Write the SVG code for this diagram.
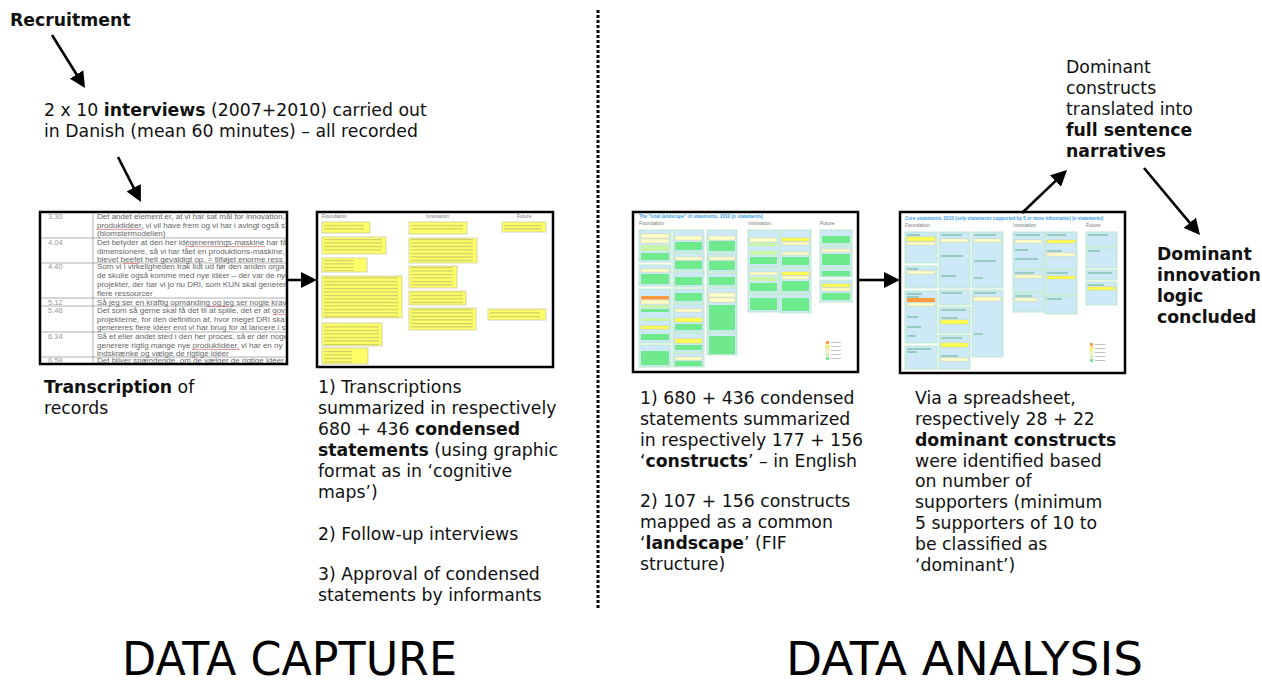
<svg xmlns="http://www.w3.org/2000/svg" width="1262" height="687" viewBox="0 0 1262 687">
<style>
.t{font-family:"DejaVu Sans",Verdana,sans-serif;font-size:17.3px;fill:#111}
.b{font-weight:bold}
.big{font-family:"DejaVu Sans",Verdana,sans-serif;font-size:46px;fill:#000}
.tab{font-family:"Liberation Sans",Arial,sans-serif;font-size:8px;fill:#666}
.tm{font-family:"Liberation Sans",Arial,sans-serif;font-size:7.5px;fill:#999}
.hd{font-family:"Liberation Sans",Arial,sans-serif;font-size:5px;fill:#777}
.ttl{font-family:"Liberation Sans",Arial,sans-serif;font-size:4.6px;fill:#3aa0e8;font-weight:bold}
.frame{fill:#fff;stroke:#000;stroke-width:2.5}
.grid{stroke:#999;stroke-width:0.8}
.yb{fill:#ffff66;stroke:#c9c9a8;stroke-width:0.8}
.yt{fill:url(#txt)}
.pn{fill:#cde9f7;stroke:#b5e6bf;stroke-width:0.8}
.g{fill:#6eea8c}
.lg{fill:#c8f5a8}
.y{fill:#ffff55;stroke:#d8c850;stroke-width:0.4}
.ly{fill:#ffffcc;stroke:#d8c890;stroke-width:0.4}
.o{fill:#ff9a40}
.pl{stroke:#3b9a5a;stroke-width:0.7}
.arr{stroke:#000;stroke-width:2.6;fill:none;marker-end:url(#ah)}
</style>
<defs>
<marker id="ah" markerUnits="userSpaceOnUse" markerWidth="16" markerHeight="16" refX="6" refY="8" orient="auto">
<path d="M0,0 L16,8 L0,16 z" fill="#000"/>
</marker>
<pattern id="txt" width="30" height="3.5" patternUnits="userSpaceOnUse">
<rect x="0" y="1.2" width="30" height="0.7" fill="#a8a870"/>
</pattern>
<clipPath id="c1"><rect x="41" y="213" width="245" height="150"/></clipPath>
</defs>

<g id="node-recruitment"><text class="t b" x="10" y="26">Recruitment</text></g>

<g id="node-interviews">
<text class="t" x="44" y="116">2 x 10 <tspan class="b">interviews</tspan> (2007+2010) carried out</text>
<text class="t" x="44" y="137">in Danish (mean 60 minutes) – all recorded</text>
</g>

<g id="node-transcript-image">
<rect class="frame" x="40" y="212" width="247" height="152"/>
<g clip-path="url(#c1)">
<line class="grid" x1="93" y1="212" x2="93" y2="364"/>
<line class="grid" x1="40" y1="238" x2="287" y2="238"/>
<line class="grid" x1="40" y1="263" x2="287" y2="263"/>
<line class="grid" x1="40" y1="298" x2="287" y2="298"/>
<line class="grid" x1="40" y1="306" x2="287" y2="306"/>
<line class="grid" x1="40" y1="332" x2="287" y2="332"/>
<line class="grid" x1="40" y1="357" x2="287" y2="357"/>
<text class="tm" x="48" y="219">3.30</text>
<text class="tm" x="48" y="245">4.04</text>
<text class="tm" x="48" y="269">4.40</text>
<text class="tm" x="48" y="305">5.12</text>
<text class="tm" x="48" y="313">5.46</text>
<text class="tm" x="48" y="339">6.34</text>
<text class="tm" x="48" y="363">6.58</text>
<text class="tab" x="97" y="219">Det andet element er, at vi har sat mål for innovation,</text>
<text class="tab" x="97" y="228">produktidéer, vi vil have frem og vi har i avingt også s</text>
<text class="tab" x="97" y="236">(blomstermodellen)</text>
<text class="tab" x="97" y="245">Det betyder at den her idégenererings-maskine har få</text>
<text class="tab" x="97" y="254">dimensionere, så vi har fået en produktions-maskine,</text>
<text class="tab" x="97" y="262">blevet beefet helt gevaldigt op. = tilføjet enorme ress</text>
<text class="tab" x="97" y="269">Som vi i virkeligheden trak lidt ud før den anden orga</text>
<text class="tab" x="97" y="278">de skulle også komme med nye idéer – der var de nye</text>
<text class="tab" x="97" y="287">projekter, der har vi jo nu DRI, som KUN skal generer</text>
<text class="tab" x="97" y="296">flere ressourcer</text>
<text class="tab" x="97" y="305">Så jeg ser en kraftig opmanding og jeg ser nogle krav</text>
<text class="tab" x="97" y="313">Det som så gerne skal få det til at spille, det er at gov</text>
<text class="tab" x="97" y="322">projekterne, for den definition af, hvor meget DRI ska</text>
<text class="tab" x="97" y="330">genereres flere idéer end vi har brug for at lancere i s</text>
<text class="tab" x="97" y="339">Så et eller andet sted i den her proces, så er der noge</text>
<text class="tab" x="97" y="348">generere rigtig mange nye produktidéer, vi har en ny</text>
<text class="tab" x="97" y="356">indskrænke og vælge de rigtige idéer</text>
<text class="tab" x="97" y="363">Det bliver spændende, om de vælger de rigtige idéer</text>
<g stroke="#e06060" stroke-width="0.6">
<line x1="97" y1="229.5" x2="142" y2="229.5"/>
<line x1="185" y1="246.5" x2="265" y2="246.5"/>
<line x1="123" y1="263.5" x2="139" y2="263.5"/>
<line x1="207" y1="306.5" x2="229" y2="306.5"/>
<line x1="274" y1="314.5" x2="286" y2="314.5"/>
<line x1="192" y1="349.5" x2="240" y2="349.5"/>
</g>
</g>
</g>

<g id="node-transcription-label">
<text class="t" x="44" y="393"><tspan class="b">Transcription</tspan> of</text>
<text class="t" x="44" y="414">records</text>
</g>

<g id="node-cognitive-map">
<rect class="frame" x="317" y="212" width="236" height="155"/>
<text class="hd" x="322" y="218">Foundation</text>
<text class="hd" x="426" y="218">Innovation</text>
<text class="hd" x="517" y="218">Future</text>
<rect class="yb" x="322" y="222" width="48" height="11"/><rect class="yt" x="324" y="223" width="40" height="9"/>
<rect class="yb" x="322" y="237" width="64" height="17"/><rect class="yt" x="324" y="238" width="58" height="15"/>
<rect class="yb" x="322" y="258" width="45" height="14"/><rect class="yt" x="324" y="259" width="30" height="12"/>
<rect class="yb" x="322" y="276" width="80" height="42"/><rect class="yt" x="324" y="277" width="74" height="40"/>
<rect class="yb" x="322" y="323" width="60" height="23"/><rect class="yt" x="324" y="324" width="55" height="21"/>
<rect class="yb" x="322" y="348" width="46" height="16"/><rect class="yt" x="324" y="349" width="28" height="14"/>
<rect class="yb" x="409" y="222" width="58" height="12"/><rect class="yt" x="411" y="223" width="52" height="9"/>
<rect class="yb" x="409" y="238" width="68" height="25"/><rect class="yt" x="411" y="239" width="62" height="23"/>
<rect class="yb" x="409" y="266" width="48" height="22"/><rect class="yt" x="411" y="267" width="42" height="20"/>
<rect class="yb" x="409" y="291" width="57" height="14"/><rect class="yt" x="411" y="292" width="52" height="12"/>
<rect class="yb" x="409" y="308" width="67" height="22"/><rect class="yt" x="411" y="309" width="62" height="20"/>
<rect class="yb" x="502" y="222" width="44" height="10"/><rect class="yt" x="504" y="223" width="38" height="8"/>
<rect class="yb" x="488" y="309" width="58" height="11"/><rect class="yt" x="490" y="310" width="50" height="9"/>
</g>

<g id="node-condensed-text">
<text class="t" x="318" y="393">1) Transcriptions</text>
<text class="t" x="318" y="414">summarized in respectively</text>
<text class="t" x="318" y="435">680 + 436 <tspan class="b">condensed</tspan></text>
<text class="t" x="318" y="456"><tspan class="b">statements</tspan> (using graphic</text>
<text class="t" x="318" y="477">format as in ‘cognitive</text>
<text class="t" x="318" y="498">maps’)</text>
<text class="t" x="318" y="540">2) Follow-up interviews</text>
<text class="t" x="318" y="580">3) Approval of condensed</text>
<text class="t" x="318" y="601">statements by informants</text>
</g>

<g id="node-divider"><line x1="598" y1="10" x2="598" y2="608" stroke="#000" stroke-width="3" stroke-dasharray="3 2"/></g>

<g id="node-landscape">
<rect class="frame" x="633" y="212" width="225" height="160"/>
<text class="ttl" x="639" y="218">The "total landscape" of statements, 2010 (n statements)</text>
<text class="hd" x="639" y="225">Foundation</text>
<text class="hd" x="748" y="225">Innovation</text>
<text class="hd" x="820" y="225">Future</text>
<rect class="pn" x="639" y="230" width="32" height="32"/>
<rect class="ly" x="641" y="234" width="28" height="4"/><rect class="ly" x="641" y="239" width="28" height="4"/><rect class="lg" x="641" y="245" width="28" height="6"/><rect class="g" x="641" y="253" width="28" height="7"/>
<rect class="pn" x="639" y="265" width="32" height="21"/>
<rect class="ly" x="641" y="269" width="28" height="3"/><rect class="g" x="641" y="274" width="28" height="10"/>
<rect class="pn" x="639" y="289" width="32" height="54"/>
<rect class="o" x="641" y="296" width="28" height="3.5"/><rect class="ly" x="641" y="300" width="28" height="4"/><rect class="lg" x="641" y="305" width="28" height="3"/><rect class="g" x="641" y="309" width="28" height="3"/>
<rect class="lg" x="641" y="318" width="28" height="3"/><rect class="y" x="641" y="326" width="28" height="3"/><rect class="g" x="641" y="334" width="28" height="6"/>
<rect class="pn" x="639" y="345" width="32" height="22"/>
<rect class="g" x="641" y="351" width="28" height="14"/>
<rect class="pn" x="673" y="230" width="31" height="22"/>
<rect class="ly" x="675" y="236" width="27" height="4"/><rect class="g" x="675" y="242" width="27" height="8"/>
<rect class="pn" x="673" y="253" width="31" height="18"/>
<rect class="ly" x="675" y="257" width="27" height="3"/><rect class="g" x="675" y="261" width="27" height="8"/>
<rect class="pn" x="673" y="272" width="31" height="15"/><rect class="g" x="675" y="277" width="27" height="8"/>
<rect class="pn" x="673" y="289" width="31" height="14"/><rect class="g" x="675" y="293" width="27" height="8"/>
<rect class="pn" x="673" y="304" width="31" height="28"/>
<rect class="ly" x="675" y="309" width="27" height="3"/><rect class="y" x="675" y="318" width="27" height="4"/><rect class="g" x="675" y="324" width="27" height="6"/>
<rect class="pn" x="673" y="333" width="31" height="19"/>
<rect class="y" x="675" y="339" width="27" height="4"/><rect class="g" x="675" y="345" width="27" height="5"/>
<rect class="pn" x="673" y="353" width="31" height="14"/>
<rect class="ly" x="675" y="357" width="27" height="3"/><rect class="g" x="675" y="361" width="27" height="5"/>
<rect class="pn" x="707" y="230" width="30" height="23"/>
<rect class="ly" x="709" y="236" width="26" height="4"/><rect class="g" x="709" y="241" width="26" height="10"/>
<rect class="pn" x="707" y="254" width="30" height="18"/>
<rect class="ly" x="709" y="257" width="26" height="3"/><rect class="g" x="709" y="261" width="26" height="9"/>
<rect class="pn" x="707" y="273" width="30" height="14"/><rect class="g" x="709" y="277" width="26" height="8"/>
<rect class="pn" x="707" y="288" width="30" height="44"/>
<rect class="ly" x="709" y="293" width="26" height="4"/><rect class="ly" x="709" y="298" width="26" height="4"/><rect class="g" x="709" y="305" width="26" height="25"/>
<rect class="pn" x="707" y="333" width="30" height="22"/><rect class="g" x="709" y="336" width="26" height="18"/>
<rect class="pn" x="748" y="230" width="31" height="37"/>
<rect class="ly" x="750" y="238" width="27" height="4"/><rect class="lg" x="750" y="243" width="27" height="3"/><rect class="lg" x="750" y="251" width="27" height="4"/><rect class="g" x="750" y="257" width="27" height="7"/>
<rect class="pn" x="748" y="268" width="31" height="25"/>
<rect class="ly" x="750" y="272" width="27" height="3"/><rect class="lg" x="750" y="277" width="27" height="4"/><rect class="g" x="750" y="283" width="27" height="8"/>
<rect class="pn" x="748" y="294" width="31" height="18"/><rect class="g" x="750" y="298" width="27" height="12"/>
<rect class="pn" x="780" y="230" width="31" height="37"/>
<rect class="y" x="782" y="238" width="27" height="3"/><rect class="ly" x="782" y="242" width="27" height="3"/><rect class="ly" x="782" y="252" width="27" height="3"/><rect class="g" x="782" y="257" width="27" height="8"/>
<rect class="pn" x="780" y="268" width="31" height="25"/>
<rect class="y" x="782" y="272" width="27" height="3"/><rect class="ly" x="782" y="276" width="27" height="3"/><rect class="g" x="782" y="281" width="27" height="10"/>
<rect class="pn" x="780" y="294" width="31" height="19"/><rect class="g" x="782" y="298" width="27" height="13"/>
<rect class="pn" x="820" y="230" width="32" height="15"/><rect class="g" x="822" y="236" width="28" height="7"/>
<rect class="pn" x="820" y="246" width="32" height="21"/>
<rect class="ly" x="822" y="249" width="28" height="3"/><rect class="g" x="822" y="254" width="28" height="11"/>
<rect class="pn" x="820" y="268" width="32" height="9"/><rect class="g" x="822" y="271" width="28" height="5"/>
<rect class="pn" x="820" y="280" width="32" height="22"/>
<rect class="y" x="822" y="284" width="28" height="3"/><rect class="ly" x="822" y="288" width="28" height="3"/><rect class="g" x="822" y="293" width="28" height="7"/>
<rect class="o" x="826" y="341" width="3" height="3"/><rect class="y" x="826" y="345" width="3" height="3"/><rect class="ly" x="826" y="349" width="3" height="3"/><rect class="lg" x="826" y="353" width="3" height="3"/><rect class="g" x="826" y="357" width="3" height="3"/>
<g stroke="#999" stroke-width="0.6"><line x1="831" y1="342.5" x2="841" y2="342.5"/><line x1="831" y1="346.5" x2="841" y2="346.5"/><line x1="831" y1="350.5" x2="841" y2="350.5"/><line x1="831" y1="354.5" x2="841" y2="354.5"/><line x1="831" y1="358.5" x2="841" y2="358.5"/></g>
</g>

<g id="node-constructs-text">
<text class="t" x="640" y="404">1) 680 + 436 condensed</text>
<text class="t" x="640" y="425">statements summarized</text>
<text class="t" x="640" y="446">in respectively 177 + 156</text>
<text class="t" x="640" y="467">‘<tspan class="b">constructs</tspan>’ – in English</text>
<text class="t" x="640" y="507">2) 107 + 156 constructs</text>
<text class="t" x="640" y="528">mapped as a common</text>
<text class="t" x="640" y="549">‘<tspan class="b">landscape</tspan>’ (FIF</text>
<text class="t" x="640" y="570">structure)</text>
</g>

<g id="node-core">
<rect class="frame" x="900" y="212" width="225" height="161"/>
<text class="ttl" x="905" y="220">Core statements, 2010 (only statements supported by 5 or more informants) (n statements)</text>
<text class="hd" x="905" y="227">Foundation</text>
<text class="hd" x="1013" y="227">Innovation</text>
<text class="hd" x="1086" y="227">Future</text>
<rect class="pn" x="905" y="232" width="32" height="31"/>
<rect class="y" x="907" y="237" width="28" height="4"/><rect class="ly" x="907" y="242" width="28" height="3"/>
<rect class="pn" x="905" y="266" width="32" height="22"/><rect class="ly" x="907" y="271" width="28" height="3"/>
<rect class="pn" x="905" y="291" width="32" height="52"/>
<rect class="o" x="907" y="298" width="28" height="4"/><rect class="ly" x="907" y="303" width="28" height="3"/>
<rect class="pn" x="905" y="346" width="32" height="23"/>
<rect class="pn" x="939" y="232" width="31" height="56"/><rect class="ly" x="941" y="239" width="27" height="3"/>
<rect class="pn" x="939" y="290" width="31" height="15"/>
<rect class="pn" x="939" y="307" width="31" height="26"/><rect class="y" x="941" y="320" width="27" height="4"/>
<rect class="pn" x="939" y="335" width="31" height="34"/><rect class="y" x="941" y="343" width="27" height="4"/><rect class="ly" x="941" y="358" width="27" height="3"/>
<rect class="pn" x="972" y="232" width="31" height="56"/><rect class="ly" x="974" y="239" width="27" height="3"/>
<rect class="pn" x="972" y="290" width="31" height="67"/><rect class="ly" x="974" y="297" width="27" height="4"/>
<rect class="pn" x="1013" y="232" width="31" height="37"/><rect class="ly" x="1015" y="240" width="27" height="3"/>
<rect class="pn" x="1013" y="270" width="31" height="22"/><rect class="ly" x="1015" y="275" width="27" height="3"/>
<rect class="pn" x="1013" y="293" width="31" height="19"/><rect class="ly" x="1015" y="298" width="22" height="3"/>
<rect class="pn" x="1045" y="232" width="32" height="37"/><rect class="y" x="1047" y="240" width="28" height="3"/><rect class="ly" x="1047" y="253" width="28" height="3"/>
<rect class="pn" x="1045" y="270" width="32" height="25"/><rect class="y" x="1047" y="276" width="28" height="3"/>
<rect class="pn" x="1045" y="296" width="32" height="18"/>
<rect class="pn" x="1086" y="232" width="31" height="15"/>
<rect class="pn" x="1086" y="248" width="31" height="20"/>
<rect class="pn" x="1086" y="270" width="31" height="10"/>
<rect class="pn" x="1086" y="282" width="31" height="23"/><rect class="y" x="1088" y="287" width="27" height="3"/>
<g class="pl">
<line x1="907" y1="235" x2="920" y2="235"/><line x1="907" y1="269" x2="918" y2="269"/><line x1="907" y1="294" x2="922" y2="294"/><line x1="907" y1="297" x2="919" y2="297"/>
<line x1="907" y1="317" x2="918" y2="317"/><line x1="907" y1="327" x2="921" y2="327"/><line x1="907" y1="336" x2="916" y2="336"/><line x1="907" y1="349" x2="931" y2="349"/><line x1="907" y1="352" x2="917" y2="352"/>
<line x1="941" y1="235" x2="962" y2="235"/><line x1="941" y1="256" x2="963" y2="256"/><line x1="941" y1="276" x2="956" y2="276"/><line x1="941" y1="293" x2="962" y2="293"/><line x1="941" y1="310" x2="966" y2="310"/><line x1="941" y1="318" x2="958" y2="318"/><line x1="941" y1="338" x2="962" y2="338"/><line x1="941" y1="356" x2="958" y2="356"/>
<line x1="974" y1="235" x2="996" y2="235"/><line x1="974" y1="261" x2="996" y2="261"/><line x1="974" y1="278" x2="983" y2="278"/><line x1="974" y1="293" x2="996" y2="293"/><line x1="974" y1="334" x2="983" y2="334"/>
<line x1="1015" y1="235" x2="1040" y2="235"/><line x1="1015" y1="250" x2="1028" y2="250"/><line x1="1015" y1="259" x2="1038" y2="259"/><line x1="1015" y1="273" x2="1034" y2="273"/><line x1="1015" y1="296" x2="1032" y2="296"/>
<line x1="1047" y1="235" x2="1066" y2="235"/><line x1="1047" y1="251" x2="1062" y2="251"/><line x1="1047" y1="273" x2="1068" y2="273"/><line x1="1047" y1="299" x2="1062" y2="299"/>
<line x1="1088" y1="235" x2="1108" y2="235"/><line x1="1088" y1="251" x2="1100" y2="251"/><line x1="1088" y1="273" x2="1112" y2="273"/><line x1="1088" y1="285" x2="1104" y2="285"/>
</g>
<rect class="o" x="1090" y="343" width="3" height="3"/><rect class="y" x="1090" y="347" width="3" height="3"/><rect class="ly" x="1090" y="351" width="3" height="3"/><rect class="lg" x="1090" y="355" width="3" height="3"/><rect class="g" x="1090" y="359" width="3" height="3"/>
<g stroke="#999" stroke-width="0.6"><line x1="1095" y1="344.5" x2="1105" y2="344.5"/><line x1="1095" y1="348.5" x2="1105" y2="348.5"/><line x1="1095" y1="352.5" x2="1105" y2="352.5"/><line x1="1095" y1="356.5" x2="1105" y2="356.5"/><line x1="1095" y1="360.5" x2="1105" y2="360.5"/></g>
</g>

<g id="node-dominant-text">
<text class="t" x="915" y="404">Via a spreadsheet,</text>
<text class="t" x="915" y="425">respectively 28 + 22</text>
<text class="t b" x="915" y="446">dominant constructs</text>
<text class="t" x="915" y="467">were identified based</text>
<text class="t" x="915" y="487">on number of</text>
<text class="t" x="915" y="508">supporters (minimum</text>
<text class="t" x="915" y="529">5 supporters of 10 to</text>
<text class="t" x="915" y="550">be classified as</text>
<text class="t" x="915" y="571">‘dominant’)</text>
</g>

<g id="node-narratives">
<text class="t" x="1066" y="73">Dominant</text>
<text class="t" x="1066" y="94">constructs</text>
<text class="t" x="1066" y="115">translated into</text>
<text class="t b" x="1066" y="136">full sentence</text>
<text class="t b" x="1066" y="157">narratives</text>
</g>

<g id="node-concluded">
<text class="t b" x="1157" y="260">Dominant</text>
<text class="t b" x="1157" y="281">innovation</text>
<text class="t b" x="1157" y="302">logic</text>
<text class="t b" x="1157" y="323">concluded</text>
</g>

<g id="titles">
<text class="big" x="122" y="675" textLength="335" lengthAdjust="spacingAndGlyphs">DATA CAPTURE</text>
<text class="big" x="786" y="675" textLength="357" lengthAdjust="spacingAndGlyphs">DATA ANALYSIS</text>
</g>

<g id="connectors">
<line class="arr" x1="52" y1="35" x2="79.7" y2="79.5"/>
<line class="arr" x1="118" y1="157" x2="136.4" y2="193.1"/>
<line class="arr" x1="288" y1="280" x2="307" y2="280"/>
<line class="arr" x1="858" y1="280" x2="890" y2="280"/>
<line class="arr" x1="1022" y1="213" x2="1059.8" y2="176.9"/>
<line class="arr" x1="1144" y1="168" x2="1193.6" y2="227.3"/>
</g>
</svg>
